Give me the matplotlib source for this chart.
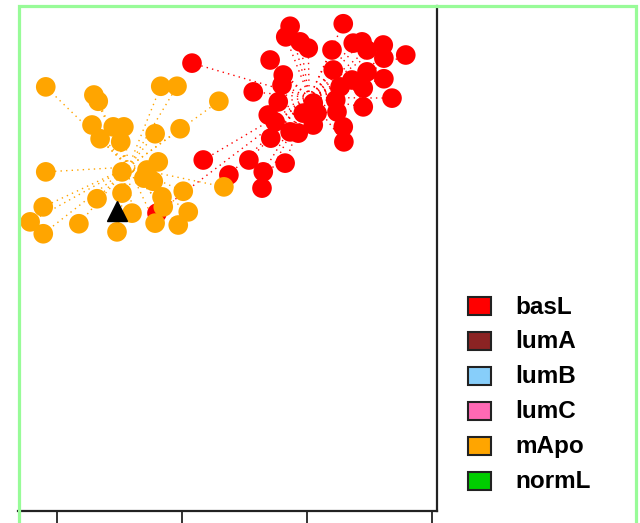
import numpy as np
import matplotlib
matplotlib.use("Agg")
import matplotlib.pyplot as plt
from matplotlib.patches import Rectangle

# PCA-like scores
basl_x = [-1.84, -0.59, -0.27, -0.34, -0.11, 0.02, 0.58, 0.40, 0.74, 0.88, 0.96, 1.22, 1.23, 1.58,
          -0.86, -0.38, -0.40, 0.42, 0.96, 0.72, 0.90, 0.53, 1.23, 1.36, -0.46, -0.62, -0.51,
          0.10, 0.16, -0.06, 0.46, 0.48, 0.90, -0.27, -0.14, 0.10, -0.58, 0.58, 0.59,
          -1.66, -0.93, -0.35, -1.25, -0.70, -0.72, -2.40]
basl_y = [3.79, 3.84, 4.38, 4.21, 4.13, 4.03, 4.42, 4.00, 4.11, 4.13, 4.00, 4.08, 3.87, 3.92,
          3.33, 3.60, 3.44, 3.68, 3.65, 3.52, 3.39, 3.41, 3.54, 3.23, 3.17, 2.96, 2.85,
          3.15, 2.99, 2.99, 3.20, 3.01, 3.09, 2.69, 2.67, 2.80, 2.59, 2.77, 2.53,
          2.24, 2.24, 2.19, 2.00, 2.05, 1.79, 1.39]

mapo_x = [-4.18, -3.41, -3.34, -2.34, -2.08, -1.41, -3.44, -3.10, -2.93, -3.31, -2.98, -2.43,
          -2.03, -4.18, -2.96, -2.38, -2.56, -2.61, -2.46, -2.96, -3.36, -4.22, -1.98, -1.33,
          -4.43, -4.22, -3.65, -2.80, -3.04, -2.32, -2.30, -2.43, -2.06, -1.90]
mapo_y = [3.41, 3.28, 3.18, 3.42, 3.42, 3.18, 2.80, 2.77, 2.77, 2.58, 2.53, 2.66,
          2.74, 2.05, 2.05, 2.21, 2.08, 1.95, 1.90, 1.71, 1.62, 1.49, 1.74, 1.81,
          1.25, 1.06, 1.22, 1.39, 1.09, 1.65, 1.49, 1.23, 1.20, 1.41]

query_x = [-3.04]
query_y = [1.42]

legend_labels = ["basL", "lumA", "lumB", "lumC", "mApo", "normL"]
legend_colors = ["#FF0000", "#8B2323", "#87CEFA", "#FF69B4", "#FFA500", "#00CD00"]

xticks = [-4, -2, 0, 2]

plt.rcParams["font.family"] = ["Liberation Sans", "DejaVu Sans"]
fig = plt.figure(figsize=(6.4, 5.23), dpi=100)
W, H = 640.0, 523.0
ax = fig.add_axes([18 / W, 1 - 511 / H, 419 / W, 505 / H])

groups = [(basl_x, basl_y, "#FF0000"), (mapo_x, mapo_y, "#FFA500")]
# spider lines to the group centroid
for gx, gy, col in groups:
    cx, cy = np.mean(gx), np.mean(gy)
    for px, py in zip(gx, gy):
        ax.plot([cx, px], [cy, py], color=col, lw=1.0, ls=(0, (1, 3)), zorder=1)
for gx, gy, col in groups:
    ax.scatter(gx, gy, s=200, color=col, edgecolors="none", zorder=2)
ax.plot(query_x, query_y, marker="^", color="black", ms=15, ls="none", zorder=3)

ax.set_xlim(-4.624, 2.08)
ax.set_ylim(-3.376, 4.704)
ax.set_xticks(xticks)
ax.set_xticklabels([])
ax.set_yticks([])
ax.tick_params(axis="x", direction="out", length=10, width=1.3, color="#222222")
ax.spines["left"].set_visible(False)
ax.spines["top"].set_visible(False)
for s in ("right", "bottom"):
    ax.spines[s].set_linewidth(1.6)
    ax.spines[s].set_color("#222222")

# light green frame
fig.patches.append(Rectangle((18.5 / W, -0.2), 617 / W, 1.2 - 5.5 / H, transform=fig.transFigure,
                             fill=False, edgecolor="#98FB98", lw=2.3, zorder=10))

# legend
for i, (lab, col) in enumerate(zip(legend_labels, legend_colors)):
    yc = 306 + 34.9 * i
    fig.patches.append(Rectangle((468 / W, 1 - (yc + 9) / H), 23 / W, 18 / H,
                                 transform=fig.transFigure, facecolor=col,
                                 edgecolor="#222222", lw=1.5))
    fig.text(515 / W, 1 - (yc + 1) / H, lab, fontsize=17.5, fontweight="bold",
             va="center", ha="left")

fig.savefig("out.png", dpi=100)
